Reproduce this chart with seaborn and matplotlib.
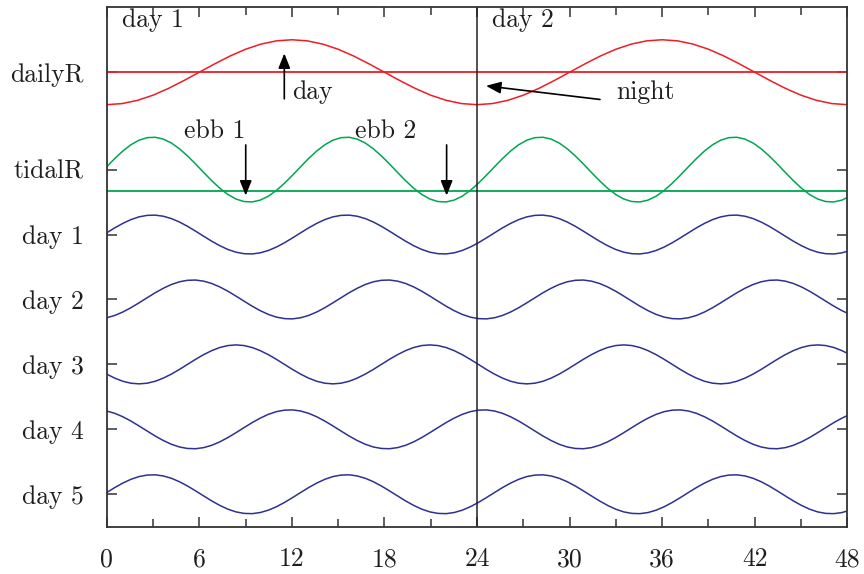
import matplotlib
matplotlib.use("Agg")
import matplotlib.pyplot as plt
import seaborn as sns

# ---------------- data ----------------
red_hours = list(range(0, 49))
dailyR = [6.000, 6.017, 6.067, 6.146, 6.250, 6.371, 6.500, 6.629, 6.750, 6.854, 6.933, 6.983,
          7.000, 6.983, 6.933, 6.854, 6.750, 6.629, 6.500, 6.371, 6.250, 6.146, 6.067, 6.017,
          6.000, 6.017, 6.067, 6.146, 6.250, 6.371, 6.500, 6.629, 6.750, 6.854, 6.933, 6.983,
          7.000, 6.983, 6.933, 6.854, 6.750, 6.629, 6.500, 6.371, 6.250, 6.146, 6.067, 6.017,
          6.000]

sample_hours = [0.000, 0.524, 1.047, 1.571, 2.094, 2.618, 3.142, 3.665, 4.189, 4.712, 5.236, 5.760,
                6.283, 6.807, 7.330, 7.854, 8.378, 8.901, 9.425, 9.948, 10.472, 10.996, 11.519, 12.043,
                12.566, 13.090, 13.614, 14.137, 14.661, 15.184, 15.708, 16.232, 16.755, 17.279, 17.802, 18.326,
                18.850, 19.373, 19.897, 20.420, 20.944, 21.468, 21.991, 22.515, 23.038, 23.562, 24.086, 24.609,
                25.133, 25.656, 26.180, 26.704, 27.227, 27.751, 28.274, 28.798, 29.322, 29.845, 30.369, 30.892,
                31.416, 31.940, 32.463, 32.987, 33.510, 34.034, 34.558, 35.081, 35.605, 36.128, 36.652, 37.176,
                37.699, 38.223, 38.746, 39.270, 39.794, 40.317, 40.841, 41.364, 41.888, 42.412, 42.935, 43.459,
                43.982, 44.506, 45.029, 45.553, 46.077, 46.600, 47.124, 47.648, 48.171]

tidalR = [5.044, 5.171, 5.287, 5.383, 5.453, 5.492, 5.498, 5.470, 5.410, 5.321, 5.211, 5.087,
          4.956, 4.829, 4.713, 4.617, 4.547, 4.508, 4.502, 4.530, 4.590, 4.679, 4.789, 4.913,
          5.044, 5.171, 5.287, 5.383, 5.453, 5.492, 5.498, 5.470, 5.410, 5.321, 5.211, 5.087,
          4.956, 4.829, 4.713, 4.617, 4.547, 4.508, 4.502, 4.530, 4.590, 4.679, 4.789, 4.913,
          5.044, 5.171, 5.287, 5.383, 5.453, 5.492, 5.498, 5.470, 5.410, 5.321, 5.211, 5.087,
          4.956, 4.829, 4.713, 4.617, 4.547, 4.508, 4.502, 4.530, 4.590, 4.679, 4.789, 4.913,
          5.044, 5.171, 5.287, 5.383, 5.453, 5.492, 5.498, 5.470, 5.410, 5.321, 5.211, 5.087,
          4.956, 4.829, 4.713, 4.617, 4.547, 4.508, 4.502, 4.530, 4.590]

day1 = [4.026, 4.103, 4.172, 4.230, 4.272, 4.295, 4.299, 4.282, 4.246, 4.193, 4.127, 4.052,
        3.974, 3.897, 3.828, 3.770, 3.728, 3.705, 3.701, 3.718, 3.754, 3.807, 3.873, 3.948,
        4.026, 4.103, 4.172, 4.230, 4.272, 4.295, 4.299, 4.282, 4.246, 4.193, 4.127, 4.052,
        3.974, 3.897, 3.828, 3.770, 3.728, 3.705, 3.701, 3.718, 3.754, 3.807, 3.873, 3.948,
        4.026, 4.103, 4.172, 4.230, 4.272, 4.295, 4.299, 4.282, 4.246, 4.193, 4.127, 4.052,
        3.974, 3.897, 3.828, 3.770, 3.728, 3.705, 3.701, 3.718, 3.754, 3.807, 3.873, 3.948,
        4.026, 4.103, 4.172, 4.230, 4.272, 4.295, 4.299, 4.282, 4.246, 4.193, 4.127, 4.052,
        3.974, 3.897, 3.828, 3.770, 3.728, 3.705, 3.701, 3.718, 3.754]

day2 = [2.718, 2.754, 2.807, 2.873, 2.948, 3.026, 3.103, 3.172, 3.230, 3.272, 3.295, 3.299,
        3.282, 3.246, 3.193, 3.127, 3.052, 2.974, 2.897, 2.828, 2.770, 2.728, 2.705, 2.701,
        2.718, 2.754, 2.807, 2.873, 2.948, 3.026, 3.103, 3.172, 3.230, 3.272, 3.295, 3.299,
        3.282, 3.246, 3.193, 3.127, 3.052, 2.974, 2.897, 2.828, 2.770, 2.728, 2.705, 2.701,
        2.718, 2.754, 2.807, 2.873, 2.948, 3.026, 3.103, 3.172, 3.230, 3.272, 3.295, 3.299,
        3.282, 3.246, 3.193, 3.127, 3.052, 2.974, 2.897, 2.828, 2.770, 2.728, 2.705, 2.701,
        2.718, 2.754, 2.807, 2.873, 2.948, 3.026, 3.103, 3.172, 3.230, 3.272, 3.295, 3.299,
        3.282, 3.246, 3.193, 3.127, 3.052, 2.974, 2.897, 2.828, 2.770]

day3 = [1.850, 1.788, 1.740, 1.710, 1.700, 1.710, 1.740, 1.788, 1.850, 1.922, 2.000, 2.078,
        2.150, 2.212, 2.260, 2.290, 2.300, 2.290, 2.260, 2.212, 2.150, 2.078, 2.000, 1.922,
        1.850, 1.788, 1.740, 1.710, 1.700, 1.710, 1.740, 1.788, 1.850, 1.922, 2.000, 2.078,
        2.150, 2.212, 2.260, 2.290, 2.300, 2.290, 2.260, 2.212, 2.150, 2.078, 2.000, 1.922,
        1.850, 1.788, 1.740, 1.710, 1.700, 1.710, 1.740, 1.788, 1.850, 1.922, 2.000, 2.078,
        2.150, 2.212, 2.260, 2.290, 2.300, 2.290, 2.260, 2.212, 2.150, 2.078, 2.000, 1.922,
        1.850, 1.788, 1.740, 1.710, 1.700, 1.710, 1.740, 1.788, 1.850, 1.922, 2.000, 2.078,
        2.150, 2.212, 2.260, 2.290, 2.300, 2.290, 2.260, 2.212, 2.150]

day4 = [1.282, 1.246, 1.193, 1.127, 1.052, 0.974, 0.897, 0.828, 0.770, 0.728, 0.705, 0.701,
        0.718, 0.754, 0.807, 0.873, 0.948, 1.026, 1.103, 1.172, 1.230, 1.272, 1.295, 1.299,
        1.282, 1.246, 1.193, 1.127, 1.052, 0.974, 0.897, 0.828, 0.770, 0.728, 0.705, 0.701,
        0.718, 0.754, 0.807, 0.873, 0.948, 1.026, 1.103, 1.172, 1.230, 1.272, 1.295, 1.299,
        1.282, 1.246, 1.193, 1.127, 1.052, 0.974, 0.897, 0.828, 0.770, 0.728, 0.705, 0.701,
        0.718, 0.754, 0.807, 0.873, 0.948, 1.026, 1.103, 1.172, 1.230, 1.272, 1.295, 1.299,
        1.282, 1.246, 1.193, 1.127, 1.052, 0.974, 0.897, 0.828, 0.770, 0.728, 0.705, 0.701,
        0.718, 0.754, 0.807, 0.873, 0.948, 1.026, 1.103, 1.172, 1.230]

day5 = [0.026, 0.103, 0.172, 0.230, 0.272, 0.295, 0.299, 0.282, 0.246, 0.193, 0.127, 0.052,
        -0.026, -0.103, -0.172, -0.230, -0.272, -0.295, -0.299, -0.282, -0.246, -0.193, -0.127, -0.052,
        0.026, 0.103, 0.172, 0.230, 0.272, 0.295, 0.299, 0.282, 0.246, 0.193, 0.127, 0.052,
        -0.026, -0.103, -0.172, -0.230, -0.272, -0.295, -0.299, -0.282, -0.246, -0.193, -0.127, -0.052,
        0.026, 0.103, 0.172, 0.230, 0.272, 0.295, 0.299, 0.282, 0.246, 0.193, 0.127, 0.052,
        -0.026, -0.103, -0.172, -0.230, -0.272, -0.295, -0.299, -0.282, -0.246, -0.193, -0.127, -0.052,
        0.026, 0.103, 0.172, 0.230, 0.272, 0.295, 0.299, 0.282, 0.246, 0.193, 0.127, 0.052,
        -0.026, -0.103, -0.172, -0.230, -0.272, -0.295, -0.299, -0.282, -0.246]

daily_level = 6.5
tidal_threshold = 4.675
day_boundary = 24

ytick_values = [0, 1, 2, 3, 4, 5, 6.5]
ytick_labels = ["day 5", "day 4", "day 3", "day 2", "day 1", "tidalR", "dailyR"]
xtick_values = [0, 6, 12, 18, 24, 30, 36, 42, 48]
xtick_labels = ["0", "6", "12", "18", "24", "30", "36", "42", "48"]
xminor_values = [3, 9, 15, 21, 27, 33, 39, 45]

# ---------------- style ----------------
sns.set_style("ticks")
plt.rcParams["font.family"] = ["cmr10", "DejaVu Serif"]
plt.rcParams["axes.formatter.use_mathtext"] = True
plt.rcParams["mathtext.fontset"] = "cm"

RED = "#ee1d24"
GREEN = "#00a651"
BLUE = "#2e3192"
TXT = "#1e1e1e"
FS = 18.5

fig = plt.figure(figsize=(8.64, 5.74), dpi=100)
ax = fig.add_axes([0.1235, 0.0824, 0.8572, 0.9049])

lw = 1.1
sns.lineplot(x=red_hours, y=dailyR, color=RED, lw=lw, ax=ax, estimator=None, sort=False)
sns.lineplot(x=sample_hours, y=tidalR, color=GREEN, lw=lw, ax=ax, estimator=None, sort=False)
for series in (day1, day2, day3, day4, day5):
    sns.lineplot(x=sample_hours, y=series, color=BLUE, lw=lw, ax=ax, estimator=None, sort=False)

ax.axhline(daily_level, color=RED, lw=1.3)
ax.axhline(tidal_threshold, color=GREEN, lw=1.3)
ax.axvline(day_boundary, color="#222222", lw=1.1)

ax.set_xlim(0, 48)
ax.set_ylim(-0.5, 7.5)
ax.set_xticks(xtick_values)
ax.set_xticklabels(xtick_labels)
ax.set_xticks(xminor_values, minor=True)
ax.set_yticks(ytick_values)
ax.set_yticklabels(ytick_labels)
ax.tick_params(axis="both", which="both", direction="in", top=True, right=True,
               colors="#333333", labelcolor=TXT, labelsize=FS, width=1.1)
ax.tick_params(axis="both", which="major", length=7)
ax.tick_params(axis="both", which="minor", length=6)
ax.tick_params(axis="x", pad=15)
ax.tick_params(axis="y", pad=16.5)
for s in ax.spines.values():
    s.set_color("#333333")
    s.set_linewidth(1.3)
ax.set_xlabel("")
ax.set_ylabel("")

# ---------------- annotations ----------------
ax.text(1.0, 7.19, "day 1", fontsize=FS, color=TXT, va="baseline", ha="left")
ax.text(25.0, 7.19, "day 2", fontsize=FS, color=TXT, va="baseline", ha="left")
ax.text(12.03, 6.08, "day", fontsize=FS, color=TXT, va="baseline", ha="left")
ax.text(33.05, 6.08, "night", fontsize=FS, color=TXT, va="baseline", ha="left")
ax.text(5.03, 5.48, "ebb 1", fontsize=FS, color=TXT, va="baseline", ha="left")
ax.text(16.09, 5.48, "ebb 2", fontsize=FS, color=TXT, va="baseline", ha="left")

aprops = dict(arrowstyle="-|>,head_length=0.75,head_width=0.3", color="black", lw=1.2,
              shrinkA=0, shrinkB=0, mutation_scale=12)
ax.annotate("", xy=(11.51, 6.79), xytext=(11.51, 6.09), arrowprops=aprops)
ax.annotate("", xy=(24.58, 6.29), xytext=(31.97, 6.08), arrowprops=aprops)
ax.annotate("", xy=(9.01, 4.60), xytext=(9.01, 5.38), arrowprops=aprops)
ax.annotate("", xy=(22.03, 4.60), xytext=(22.03, 5.38), arrowprops=aprops)

fig.savefig("out.png", dpi=100)
